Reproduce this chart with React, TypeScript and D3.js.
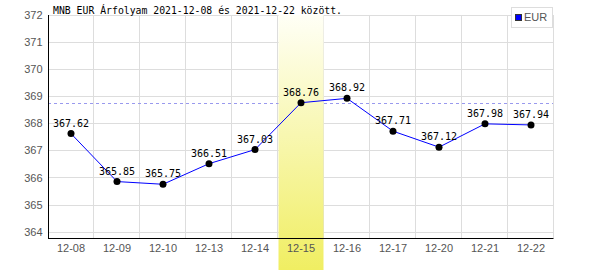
import React from "react";
import * as d3 from "d3";

const categories = ["12-08", "12-09", "12-10", "12-13", "12-14", "12-15", "12-16", "12-17", "12-20", "12-21", "12-22"];
const eurValues = [367.62, 365.85, 365.75, 366.51, 367.03, 368.76, 368.92, 367.71, 367.12, 367.98, 367.94];
const yTicks = [364, 365, 366, 367, 368, 369, 370, 371, 372];
const referenceValue = 368.74;
const highlightCategory = "12-15";
const titleText = "MNB EUR Árfolyam 2021-12-08 és 2021-12-22 között.";
const seriesName = "EUR";

const W = 600;
const H = 270;
const left = 48;
const right = 554;
const top = 14.9;
const yBottom = 231.7;
const axisY = 238;

export default function App() {
  const x = d3.scaleBand<string>().domain(categories).range([left, right]).paddingInner(0).paddingOuter(0);
  const y = d3.scaleLinear().domain([364, 372]).range([yBottom, top]);
  const bw = x.bandwidth();
  const line = d3
    .line<number>()
    .x((_, i) => (x(categories[i]) as number) + bw / 2)
    .y((d) => y(d));
  const hx = x(highlightCategory) as number;

  return (
    <svg
      width={W}
      height={H}
      style={{ position: "absolute", left: 0, top: 0, background: "#fff" }}
    >
      <defs>
        <linearGradient id="hl" x1="0" y1="0" x2="0" y2="1">
          <stop offset="0%" stopColor="#fffff6" />
          <stop offset="100%" stopColor="#f0ee62" />
        </linearGradient>
      </defs>
      <rect x={0} y={0} width={W} height={H} fill="#fff" />
      {yTicks.map((t) => (
        <line key={"h" + t} x1={left} x2={right - 0.5} y1={Math.round(y(t)) + 0.5} y2={Math.round(y(t)) + 0.5} stroke="#dddddd" strokeWidth={1} />
      ))}
      {categories.map((c) => (
        <line
          key={"v" + c}
          x1={Math.round((x(c) as number) + bw) - 0.5}
          x2={Math.round((x(c) as number) + bw) - 0.5}
          y1={Math.round(top)}
          y2={axisY}
          stroke="#dddddd"
          strokeWidth={1}
        />
      ))}
      <line
        x1={left}
        x2={right - 1}
        y1={Math.round(y(referenceValue)) + 0.5}
        y2={Math.round(y(referenceValue)) + 0.5}
        stroke="#9999ee"
        strokeWidth={1}
        strokeDasharray="3,3"
      />
      <rect x={hx + 0.5} y={Math.round(top)} width={bw - 1} height={H - Math.round(top)} fill="url(#hl)" />
      <line x1={left + 0.5} x2={left + 0.5} y1={Math.round(top)} y2={axisY + 1} stroke="#000" strokeWidth={1} />
      <line x1={left} x2={right - 0.5} y1={axisY + 0.5} y2={axisY + 0.5} stroke="#000" strokeWidth={1} />
      {yTicks.map((t) => (
        <text
          key={"yl" + t}
          x={42.5}
          y={y(t) + 4}
          textAnchor="end"
          fontFamily="Liberation Sans, Arial, sans-serif"
          fontSize={11}
          fill="#555"
        >
          {t}
        </text>
      ))}
      {categories.map((c) => (
        <text
          key={"xl" + c}
          x={(x(c) as number) + bw / 2}
          y={252}
          textAnchor="middle"
          fontFamily="Liberation Sans, Arial, sans-serif"
          fontSize={11}
          fill="#555"
        >
          {c}
        </text>
      ))}
      <path d={line(eurValues) || ""} fill="none" stroke="#0000ff" strokeWidth={1} />
      {eurValues.map((v, i) => (
        <circle key={"p" + i} cx={(x(categories[i]) as number) + bw / 2} cy={y(v)} r={3.5} fill="#000" />
      ))}
      {eurValues.map((v, i) => (
        <text
          key={"vl" + i}
          x={(x(categories[i]) as number) + bw / 2}
          y={y(v) - 7}
          textAnchor="middle"
          fontFamily="DejaVu Sans Mono, monospace"
          fontSize={10}
          fill="#000"
        >
          {v.toFixed(2)}
        </text>
      ))}
      <text x={53} y={14} fontFamily="DejaVu Sans Mono, monospace" fontSize={9.8} fill="#000">
        {titleText}
      </text>
      <rect x={511.5} y={7.5} width={41} height={20} fill="#fff" stroke="#dddddd" strokeWidth={1} />
      <rect x={515.5} y={14.5} width={6} height={6} fill="#0000ff" stroke="#333" strokeWidth={1} />
      <text x={524} y={21} fontFamily="Liberation Sans, Arial, sans-serif" fontSize={11} fill="#555">
        {seriesName}
      </text>
    </svg>
  );
}
